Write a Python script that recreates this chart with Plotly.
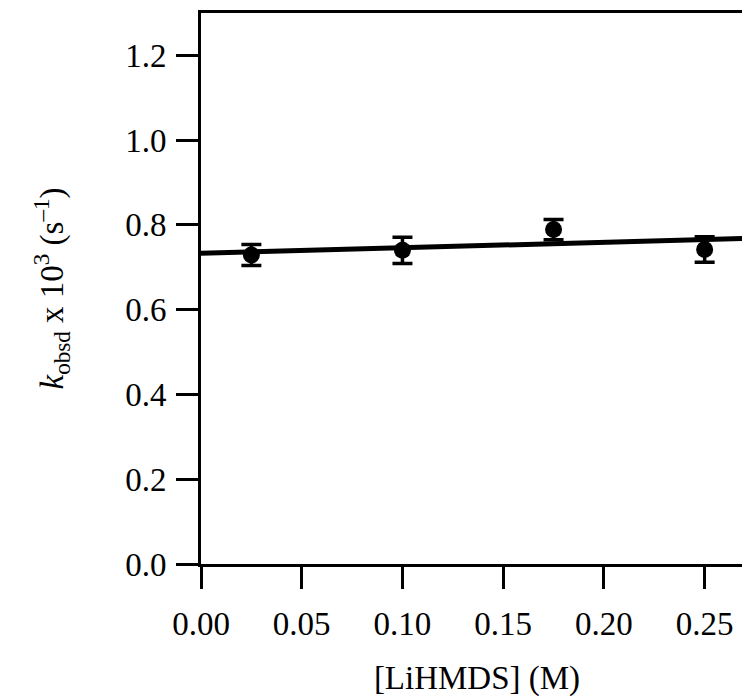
import plotly.graph_objects as go

# [LiHMDS] (M) and k_obsd x 10^3 (s^-1)
lihmds = [0.025, 0.10, 0.175, 0.25]
kobsd = [0.729, 0.740, 0.789, 0.742]
kobsd_err = [0.025, 0.031, 0.024, 0.030]

# linear fit drawn across the axis
fit_intercept = 0.733
fit_slope = 0.13
fit_x = [0.0, 0.275]
fit_y = [fit_intercept + fit_slope * x for x in fit_x]

x_ticks = [0.00, 0.05, 0.10, 0.15, 0.20, 0.25]
y_ticks = [0.0, 0.2, 0.4, 0.6, 0.8, 1.0, 1.2]

FONT = "Liberation Serif, Times New Roman, serif"

fig = go.Figure()

fig.add_trace(go.Scatter(
    x=lihmds,
    y=kobsd,
    mode="markers",
    marker={"color": "black", "size": 17},
    error_y={"type": "data", "array": kobsd_err, "color": "black",
             "thickness": 3.5, "width": 10},
    showlegend=False,
))

fig.add_trace(go.Scatter(
    x=fit_x,
    y=fit_y,
    mode="lines",
    line={"color": "black", "width": 5},
    showlegend=False,
))

axis_style = dict(
    showline=True,
    linecolor="black",
    linewidth=3,
    mirror=True,
    ticks="outside",
    ticklen=22,
    tickwidth=3,
    tickcolor="black",
    showgrid=False,
    zeroline=False,
    tickfont={"family": FONT, "size": 33, "color": "black"},
)

fig.update_xaxes(
    **axis_style,
    range=[0, 0.274],
    tickvals=x_ticks,
    ticktext=[f"{v:.2f}" for v in x_ticks],
    ticklabelstandoff=6,
    title={"text": "[LiHMDS] (M)", "font": {"family": FONT, "size": 33, "color": "black"},
           "standoff": 26},
)
fig.update_yaxes(
    **axis_style,
    range=[0, 1.3],
    tickvals=y_ticks,
    ticktext=[f"{v:.1f}" for v in y_ticks],
    ticklabelstandoff=3,
    title={"text": "<i>k</i><sub>obsd</sub> x 10<sup>3</sup> (s<sup>–1</sup>)",
           "font": {"family": FONT, "size": 33, "color": "black"},
           "standoff": 52},
)

fig.update_layout(
    width=750,
    height=698,
    margin={"l": 193, "r": 5, "t": 2, "b": 142},
    plot_bgcolor="white",
    paper_bgcolor="white",
)

fig.write_html("out.html")
